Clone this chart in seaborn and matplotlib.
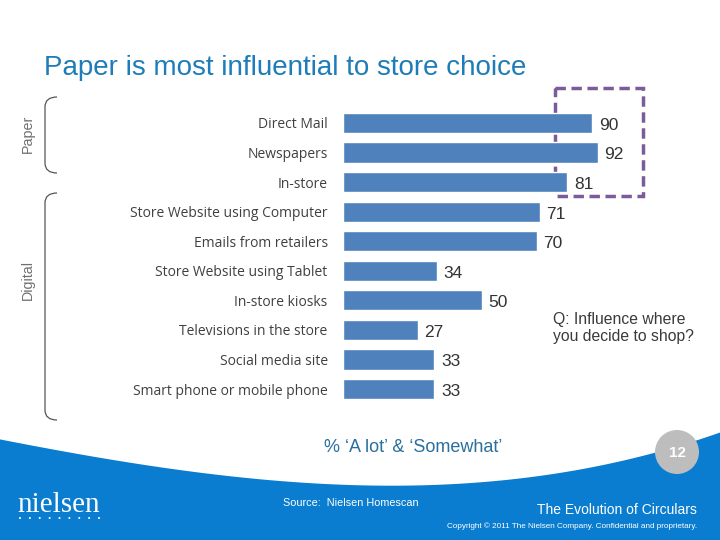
import numpy as np
import pandas as pd
import matplotlib
matplotlib.use("Agg")
import matplotlib.pyplot as plt
import seaborn as sns
from matplotlib.path import Path
from matplotlib.patches import PathPatch, Rectangle, Circle, Polygon

categories = ["Direct Mail", "Newspapers", "In-store", "Store Website using Computer",
              "Emails from retailers", "Store Website using Tablet", "In-store kiosks",
              "Televisions in the store", "Social media site", "Smart phone or mobile phone"]
values = [90, 92, 81, 71, 70, 34, 50, 27, 33, 33]

title = "Paper is most influential to store choice"
question = "Q: Influence where\nyou decide to shop?"
measure = "% \u2018A lot\u2019 & \u2018Somewhat\u2019"
source = "Source:  Nielsen Homescan"
footer_title = "The Evolution of Circulars"
copyright_txt = "Copyright \u00a9 2011 The Nielsen Company. Confidential and proprietary."
page_no = "12"

sns.set_theme(style="white")
plt.rcParams['font.family'] = ['Liberation Sans', 'DejaVu Sans']

W, H = 720, 540
fig = plt.figure(figsize=(7.2, 5.4), dpi=100)
fig.patch.set_facecolor("white")

# background / annotation layer in pixel coords
bg = fig.add_axes([0, 0, 1, 1], zorder=0)
bg.set_xlim(0, W)
bg.set_ylim(H, 0)
bg.axis("off")

# blue swoosh footer
cx = np.array([0, 120, 200, 360, 480, 600, 720])
cy = np.array([440, 460, 472, 488, 481, 465, 433])
coef = np.polyfit(cx, cy, 3)
xs = np.linspace(0, W, 200)
ys = np.polyval(coef, xs)
poly = np.vstack([np.column_stack([xs, ys]), [[W, H], [0, H]]])
bg.add_patch(Polygon(poly, closed=True, facecolor="#0A7DD0", edgecolor="none"))

# page circle
bg.add_patch(Circle((677, 452), 22, facecolor="#BDBDBD", edgecolor="none"))
bg.text(677, 453, page_no, color="white", fontsize=11, fontweight="bold",
        ha="center", va="center")

# title
bg.text(44, 68, title, color="#1E7DB8", fontsize=20, ha="left", va="center")

# brackets
def bracket(y0, y1):
    verts = [(57, y0), (45, y0), (45, y0 + 10), (45, y1 - 10), (45, y1), (57, y1)]
    codes = [Path.MOVETO, Path.CURVE3, Path.CURVE3, Path.LINETO, Path.CURVE3, Path.CURVE3]
    bg.add_patch(PathPatch(Path(verts, codes), facecolor="none", edgecolor="#555555", lw=0.9))

bracket(97, 173)
bracket(193, 420)
bg.text(28, 134, "Paper", rotation=90, color="#707070", fontsize=10.3, ha="center", va="center")
bg.text(28, 280, "Digital", rotation=90, color="#707070", fontsize=10.3, ha="center", va="center")

# dashed highlight box
bg.add_patch(Rectangle((555, 88), 88, 108, facecolor="none", edgecolor="#7D5B9B",
                       lw=2.5, linestyle=(0, (3, 1.6))))

# question text
bg.text(553, 328, question, color="#3A3A3A", fontsize=11.3, ha="left", va="center",
        linespacing=1.1)

# measure label
bg.text(413, 447, measure, color="#2A6F9E", fontsize=13, ha="center", va="center")

# footer texts
bg.text(283, 503, source, color="white", fontsize=7.8, ha="left", va="center")
bg.text(697, 510, footer_title, color="white", fontsize=10, ha="right", va="center")
bg.text(697, 526, copyright_txt, color="white", fontsize=5.85, ha="right", va="center")
bg.text(17, 505, "nielsen", color="white", fontsize=21, family="Liberation Serif",
        ha="left", va="center")
for dx in np.linspace(20, 99, 9):
    bg.add_patch(Circle((dx, 518), 1.0, facecolor="white", edgecolor="none"))

# main bar chart
left = 343 / W
right = 620 / W
top_px = 123 - 14.8
bot_px = 389 + 14.8
ax = fig.add_axes([left, 1 - bot_px / H, right - left, (bot_px - top_px) / H], zorder=1)
ax.patch.set_alpha(0)
df = pd.DataFrame({"cat": categories, "val": values})
sns.barplot(data=df, x="val", y="cat", orient="h", color="#4F81BD", saturation=1,
            width=0.68, ax=ax)
ax.set_xlim(0, 100)
ax.set_ylim(len(categories) - 0.5, -0.5)
ax.set_xlabel("")
ax.set_ylabel("")
ax.set_xticks([])
for s in ax.spines.values():
    s.set_visible(False)
ax.tick_params(axis="y", length=0, pad=11)
for lab in ax.get_yticklabels():
    lab.set_fontfamily(["Open Sans", "DejaVu Sans"])
    lab.set_fontsize(10)
    lab.set_color("#404040")
for i, v in enumerate(values):
    ax.text(v + 2.4, i + 0.08, str(v), color="#333333", fontsize=12.5, ha="left", va="center")

fig.savefig("out.png", dpi=100)
